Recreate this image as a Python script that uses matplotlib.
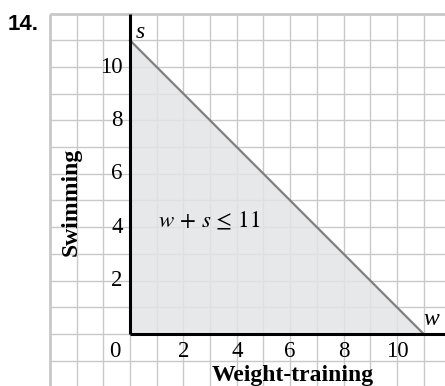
import numpy as np
import matplotlib.pyplot as plt

# dados da região w + s <= 11
limit = 11
region_w = [0, 11, 0]
region_s = [0, 0, 11]
boundary_w = [0, 11]
boundary_s = [11, 0]
xticks = [2, 4, 6, 8, 10]
yticks = [2, 4, 6, 8, 10]

plt.rcParams['font.family'] = ['Liberation Serif', 'DejaVu Serif']
plt.rcParams['mathtext.fontset'] = 'stix'

fig = plt.figure(figsize=(4.45, 3.86), dpi=100)
ax = fig.add_axes([0, 0, 1, 1])
ax.set_xlim(-4.87, 11.8)
ax.set_ylim(-1.95, 12.51)
ax.axis('off')

# grade
grid_c = '#c9c9c9'
gx = np.arange(-3, 12)
gy = np.arange(-1, 13)
ax.vlines(gx, -1.95, 12, color=grid_c, lw=1.0, zorder=1)
ax.hlines(gy, -3, 11.8, color=grid_c, lw=1.0, zorder=1)
ax.vlines([-3], -1.95, 12, color=grid_c, lw=2.0, zorder=1)
ax.hlines([12], -3, 11.8, color=grid_c, lw=2.0, zorder=1)

# região sombreada e reta de fronteira
ax.fill(region_w, region_s, color='#e3e4e6', alpha=0.85, lw=0, zorder=2)
ax.plot(boundary_w, boundary_s, color='#7f7f7f', lw=1.6, zorder=3)

# eixos
ax.vlines([0], 0, 12, color='black', lw=2.2, zorder=4)
ax.hlines([0], 0, 11.8, color='black', lw=2.2, zorder=4)

# rótulos dos ticks
for t in xticks:
    ax.text(t, -0.67, str(t), ha='center', va='center', fontsize=16.5)
for t in yticks:
    ax.text(-0.28, t, str(t), ha='right', va='center', fontsize=16.5)
ax.text(-0.56, -0.67, '0', ha='center', va='center', fontsize=16.5)

ax.text(0.37, 11.1, 's', style='italic', ha='center', va='baseline', fontsize=17)
ax.text(11.3, 0.33, 'w', style='italic', ha='center', va='baseline', fontsize=17)
ax.text(1.05, 4.0, r'$w\,+\,s\,\leq\,%d$' % limit, ha='left', va='baseline', fontsize=16.5)

ax.text(6.08, -1.54, 'Weight-training', ha='center', va='center',
        fontsize=17, fontweight='bold')
ax.text(-2.2, 4.95, 'Swimming', ha='center', va='center', rotation=90,
        fontsize=17, fontweight='bold')

fig.text(8 / 445, 1 - 30 / 386, '14.', ha='left', va='baseline',
         fontsize=16, fontweight='bold', family='Liberation Sans')

plt.savefig('out.png', dpi=100)
